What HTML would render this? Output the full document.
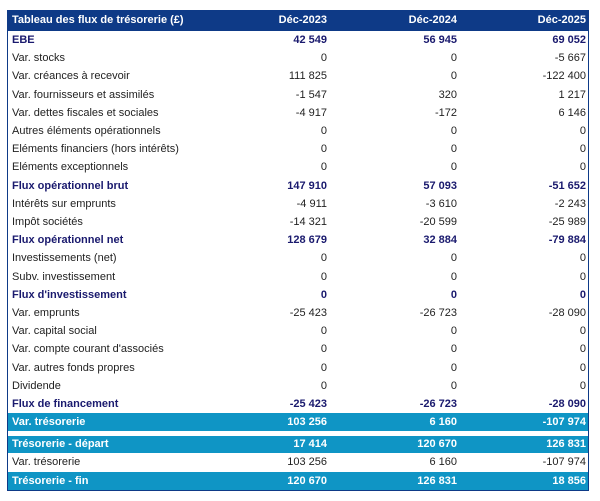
<!DOCTYPE html><html><head><meta charset="utf-8"><style>
body{margin:0;background:#fff;width:600px;height:501px;overflow:hidden;font-family:"Liberation Sans",Arial,sans-serif;font-size:11px;color:#222}
#t{position:absolute;left:7px;top:10px;width:580px;height:480px;border:1px solid #0e3a87;border-top:none}
.r{position:absolute;left:0;width:580px;height:18.2px;line-height:18.2px}
.r span{position:absolute;top:0}
.l{left:4px}.a{right:261px}.b{right:131px}.c{right:2px}
.h{background:#0e3a87;color:#fff;font-weight:bold;height:21px;line-height:21px;top:0}
.bd{font-weight:bold;color:#1a1a6e}
.bl{background:#0f95c5;color:#fff;font-weight:bold}
</style></head><body><div id="t">
<div class="r h"><span class="l">Tableau des flux de trésorerie (£)</span><span class="a">Déc-2023</span><span class="b">Déc-2024</span><span class="c">Déc-2025</span></div>
<div class="r bd" style="top:21px"><span class="l">EBE</span><span class="a">42 549</span><span class="b">56 945</span><span class="c">69 052</span></div>
<div class="r" style="top:39.2px"><span class="l">Var. stocks</span><span class="a">0</span><span class="b">0</span><span class="c">-5 667</span></div>
<div class="r" style="top:57.4px"><span class="l">Var. créances à recevoir</span><span class="a">111 825</span><span class="b">0</span><span class="c">-122 400</span></div>
<div class="r" style="top:75.6px"><span class="l">Var. fournisseurs et assimilés</span><span class="a">-1 547</span><span class="b">320</span><span class="c">1 217</span></div>
<div class="r" style="top:93.8px"><span class="l">Var. dettes fiscales et sociales</span><span class="a">-4 917</span><span class="b">-172</span><span class="c">6 146</span></div>
<div class="r" style="top:112px"><span class="l">Autres éléments opérationnels</span><span class="a">0</span><span class="b">0</span><span class="c">0</span></div>
<div class="r" style="top:130.2px"><span class="l">Eléments financiers (hors intérêts)</span><span class="a">0</span><span class="b">0</span><span class="c">0</span></div>
<div class="r" style="top:148.4px"><span class="l">Eléments exceptionnels</span><span class="a">0</span><span class="b">0</span><span class="c">0</span></div>
<div class="r bd" style="top:166.6px"><span class="l">Flux opérationnel brut</span><span class="a">147 910</span><span class="b">57 093</span><span class="c">-51 652</span></div>
<div class="r" style="top:184.8px"><span class="l">Intérêts sur emprunts</span><span class="a">-4 911</span><span class="b">-3 610</span><span class="c">-2 243</span></div>
<div class="r" style="top:203px"><span class="l">Impôt sociétés</span><span class="a">-14 321</span><span class="b">-20 599</span><span class="c">-25 989</span></div>
<div class="r bd" style="top:221.2px"><span class="l">Flux opérationnel net</span><span class="a">128 679</span><span class="b">32 884</span><span class="c">-79 884</span></div>
<div class="r" style="top:239.4px"><span class="l">Investissements (net)</span><span class="a">0</span><span class="b">0</span><span class="c">0</span></div>
<div class="r" style="top:257.6px"><span class="l">Subv. investissement</span><span class="a">0</span><span class="b">0</span><span class="c">0</span></div>
<div class="r bd" style="top:275.8px"><span class="l">Flux d'investissement</span><span class="a">0</span><span class="b">0</span><span class="c">0</span></div>
<div class="r" style="top:294px"><span class="l">Var. emprunts</span><span class="a">-25 423</span><span class="b">-26 723</span><span class="c">-28 090</span></div>
<div class="r" style="top:312.2px"><span class="l">Var. capital social</span><span class="a">0</span><span class="b">0</span><span class="c">0</span></div>
<div class="r" style="top:330.4px"><span class="l">Var. compte courant d'associés</span><span class="a">0</span><span class="b">0</span><span class="c">0</span></div>
<div class="r" style="top:348.6px"><span class="l">Var. autres fonds propres</span><span class="a">0</span><span class="b">0</span><span class="c">0</span></div>
<div class="r" style="top:366.8px"><span class="l">Dividende</span><span class="a">0</span><span class="b">0</span><span class="c">0</span></div>
<div class="r bd" style="top:385px"><span class="l">Flux de financement</span><span class="a">-25 423</span><span class="b">-26 723</span><span class="c">-28 090</span></div>
<div class="r bl" style="top:403px;height:18px"><span class="l">Var. trésorerie</span><span class="a">103 256</span><span class="b">6 160</span><span class="c">-107 974</span></div>
<div class="r bl" style="top:426px;height:17px;line-height:17px"><span class="l">Trésorerie - départ</span><span class="a">17 414</span><span class="b">120 670</span><span class="c">126 831</span></div>
<div class="r" style="top:443px;height:19px;line-height:19px"><span class="l">Var. trésorerie</span><span class="a">103 256</span><span class="b">6 160</span><span class="c">-107 974</span></div>
<div class="r bl" style="top:462px;height:18px"><span class="l">Trésorerie - fin</span><span class="a">120 670</span><span class="b">126 831</span><span class="c">18 856</span></div>
</div></body></html>
